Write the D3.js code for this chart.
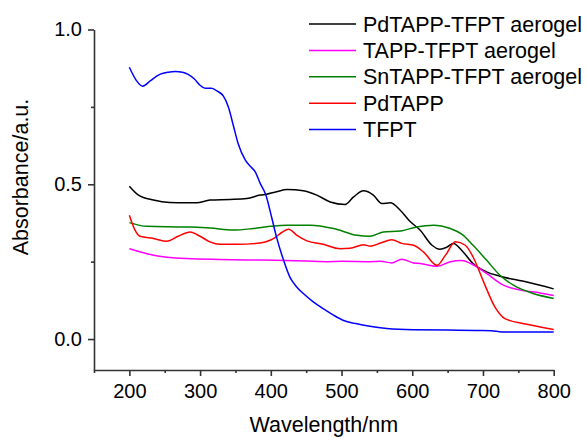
<!DOCTYPE html>
<html>
<head>
<meta charset="utf-8">
<style>
       body {
              margin: 0;
              background: #fff;
              font-family: "Liberation Sans", Arial, Helvetica, sans-serif;
       }
       svg {
              display: block;
       }
       .axis path, .axis line {
              stroke: #333;
              stroke-width: 1.6px;
       }
       .axis text {
              font-family: "Liberation Sans", Arial, sans-serif;
              font-size: 20px;
              fill: #000;
       }
       .axis-title {
              font-size: 21.5px;
              text-anchor: middle;
              fill: #000;
       }
       .legend-label {
              font-size: 21.5px;
              fill: #000;
       }
       .curve {
              fill: none;
              stroke-width: 1.5px;
       }
</style>
</head>
<body>
<script src="https://cdn.jsdelivr.net/npm/d3@7"></script>
<script>

    // values (wavelength in nm, absorbance in a.u.)
    var pdAeroNm = [200, 213, 234, 257, 281, 295, 314, 342, 366, 385, 394, 408, 423, 446, 465, 484,
        505, 517, 531, 545, 557, 569, 583, 597, 611, 628, 639, 649, 658, 672, 686, 705, 724, 762, 800],
        pdAeroAbs = [0.494, 0.465, 0.449, 0.441, 0.44, 0.44, 0.449, 0.451, 0.454, 0.465, 0.468, 0.476,
        0.483, 0.479, 0.465, 0.443, 0.435, 0.459, 0.479, 0.465, 0.438, 0.44, 0.416, 0.38, 0.352, 0.303,
        0.29, 0.297, 0.309, 0.281, 0.244, 0.217, 0.203, 0.184, 0.162];

    var tappAeroNm = [200, 234, 281, 328, 385, 450, 480, 500, 540, 555, 571, 585, 602, 611, 635, 654,
        670, 686, 705, 729, 753, 781, 800],
        tappAeroAbs = [0.292, 0.271, 0.26, 0.257, 0.255, 0.252, 0.25, 0.251, 0.25, 0.251, 0.246, 0.258,
        0.246, 0.244, 0.235, 0.25, 0.254, 0.24, 0.212, 0.174, 0.158, 0.149, 0.141];

    var snAeroNm = [200, 225, 281, 314, 347, 375, 399, 423, 456, 489, 522, 540, 559, 583, 606, 630,
        654, 670, 686, 705, 724, 743, 771, 800],
        snAeroAbs = [0.376, 0.364, 0.362, 0.359, 0.352, 0.357, 0.364, 0.368, 0.368, 0.357, 0.335, 0.332,
        0.346, 0.349, 0.362, 0.368, 0.357, 0.339, 0.303, 0.255, 0.206, 0.174, 0.147, 0.131];

    var pdTappNm = [200, 208, 215, 234, 253, 269, 286, 300, 314, 328, 352, 385, 399, 406, 416, 425,
        437, 451, 474, 498, 512, 531, 540, 555, 571, 585, 602, 616, 635, 647, 661, 675, 686, 701, 717,
        731, 762, 800],
        pdTappAbs = [0.40, 0.352, 0.332, 0.325, 0.316, 0.332, 0.346, 0.332, 0.314, 0.306, 0.306, 0.31,
        0.319, 0.328, 0.345, 0.355, 0.335, 0.317, 0.306, 0.292, 0.293, 0.305, 0.30, 0.31, 0.321, 0.309,
        0.303, 0.281, 0.238, 0.271, 0.314, 0.303, 0.265, 0.184, 0.103, 0.066, 0.048, 0.031];

    var tfptNm = [200, 210, 219, 230, 243, 255, 265, 275, 283, 292, 300, 308, 316, 325, 333, 340, 347,
        354, 364, 371, 378, 385, 393, 401, 408, 418, 427, 436, 446, 460, 474, 488, 503, 520, 540, 564,
        602, 650, 696, 712, 727, 760, 800],
        tfptAbs = [0.878, 0.835, 0.817, 0.835, 0.855, 0.862, 0.864, 0.862, 0.855, 0.84, 0.82, 0.81, 0.81,
        0.8, 0.785, 0.75, 0.69, 0.63, 0.578, 0.558, 0.54, 0.503, 0.465, 0.395, 0.33, 0.255, 0.20, 0.17,
        0.147, 0.12, 0.098, 0.078, 0.06, 0.05, 0.041, 0.034, 0.03, 0.029, 0.028, 0.027, 0.023, 0.023, 0.023];

    var seriesNames = ["PdTAPP-TFPT aerogel", "TAPP-TFPT aerogel", "SnTAPP-TFPT aerogel", "PdTAPP", "TFPT"],
        seriesColors = ["#000000", "#ff00ff", "#008000", "#ff0000", "#0000ff"],
        xTicks = [200, 300, 400, 500, 600, 700, 800],
        xMinorTicks = [150, 250, 350, 450, 550, 650, 750],
        yTicks = [0.0, 0.5, 1.0],
        yMinorTicks = [0.25, 0.75];

    var series = [
        {nm: pdAeroNm, abs: pdAeroAbs},
        {nm: tappAeroNm, abs: tappAeroAbs},
        {nm: snAeroNm, abs: snAeroAbs},
        {nm: pdTappNm, abs: pdTappAbs},
        {nm: tfptNm, abs: tfptAbs}
    ];

    var width = 587,
        height = 437,
        plotLeft = 94,
        plotRight = 553.7,
        plotTop = 29.5,
        plotBottom = 370;

    var x = d3.scaleLinear().domain([150, 800]).range([plotLeft, plotRight]);
    var y = d3.scaleLinear().domain([-0.1, 1.0]).range([plotBottom, plotTop]);

    var svg = d3.select("body").append("svg")
        .attr("width", width)
        .attr("height", height);

    // minor ticks first, so the main axis line sits over them
    svg.append("g")
        .attr("class", "axis")
        .attr("transform", "translate(0," + plotBottom + ")")
        .call(d3.axisBottom(x).tickValues(xMinorTicks).tickSize(3).tickFormat(""))
        .select(".domain").remove();

    svg.append("g")
        .attr("class", "axis")
        .attr("transform", "translate(" + plotLeft + ",0)")
        .call(d3.axisLeft(y).tickValues(yMinorTicks).tickSize(3).tickFormat(""))
        .select(".domain").remove();

    svg.append("g")
        .attr("class", "axis")
        .attr("transform", "translate(0," + plotBottom + ")")
        .call(d3.axisBottom(x).tickValues(xTicks).tickSize(6).tickSizeOuter(0).tickPadding(8)
            .tickFormat(d3.format("d")));

    svg.append("g")
        .attr("class", "axis")
        .attr("transform", "translate(" + plotLeft + ",0)")
        .call(d3.axisLeft(y).tickValues(yTicks).tickSize(6).tickSizeOuter(0).tickPadding(6)
            .tickFormat(d3.format(".1f")));

    svg.append("text")
        .attr("class", "axis-title")
        .attr("x", (plotLeft + plotRight) / 2)
        .attr("y", 432)
        .text("Wavelength/nm");

    svg.append("text")
        .attr("class", "axis-title")
        .attr("transform", "translate(28,177) rotate(-90)")
        .text("Absorbance/a.u.");

    var line = d3.line()
        .x(function(d) { return x(d[0]); })
        .y(function(d) { return y(d[1]); })
        .curve(d3.curveMonotoneX);

    svg.append("g").selectAll("path")
        .data(series)
      .enter().append("path")
        .attr("class", "curve")
        .attr("stroke", function(d, i) { return seriesColors[i]; })
        .attr("d", function(d) { return line(d3.zip(d.nm, d.abs)); });

    var legend = svg.append("g")
        .attr("transform", "translate(309,24)");

    var rows = legend.selectAll("g")
        .data(seriesNames)
      .enter().append("g")
        .attr("transform", function(d, i) { return "translate(0," + (i * 26.4) + ")"; });

    rows.append("line")
        .attr("x1", 0)
        .attr("x2", 47)
        .attr("stroke-width", 1.5)
        .attr("stroke", function(d, i) { return seriesColors[i]; });

    rows.append("text")
        .attr("class", "legend-label")
        .attr("x", 54)
        .attr("dy", "0.35em")
        .text(function(d) { return d; });

</script>
</body>
</html>
